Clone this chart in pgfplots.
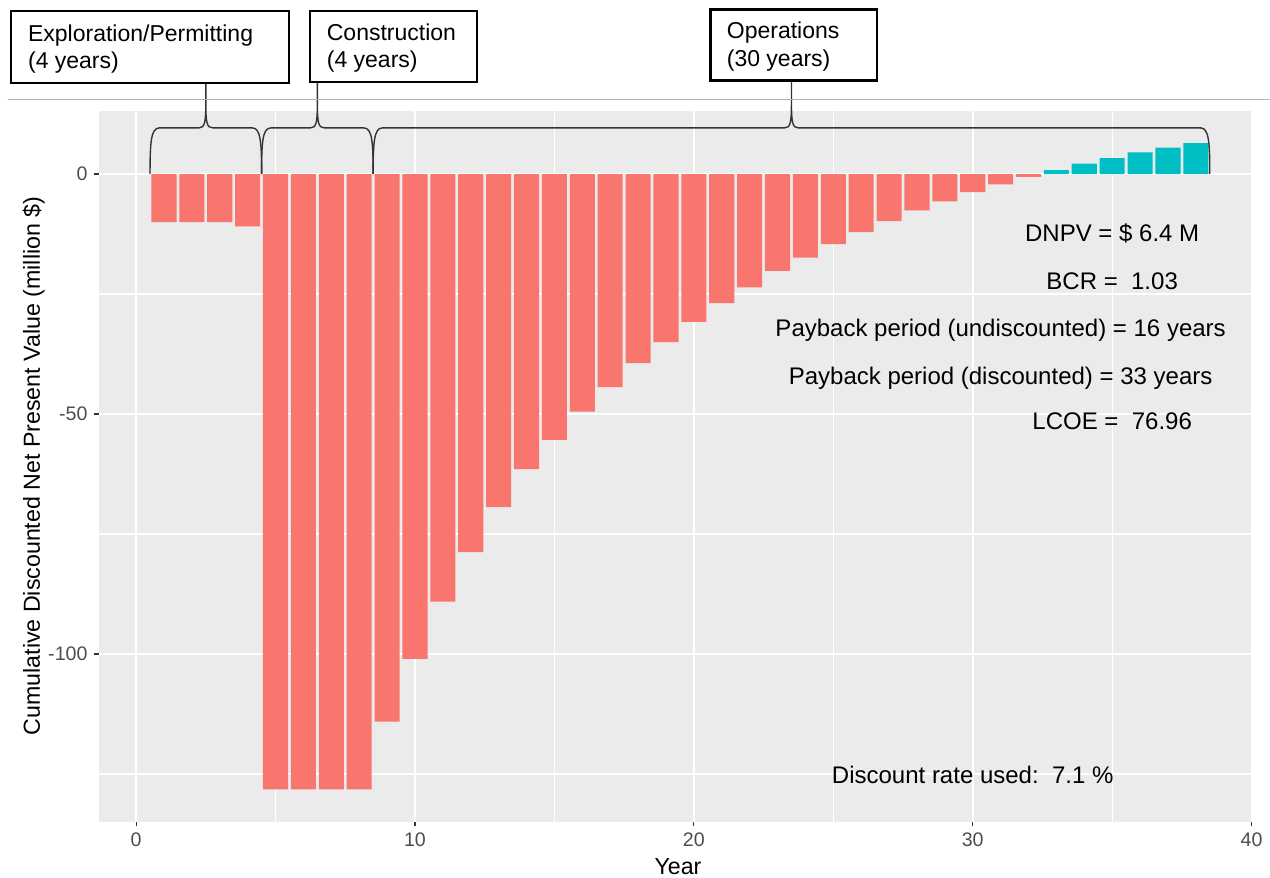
\documentclass[border=0pt]{standalone}
\usepackage{fontspec}
\setmainfont{Liberation Sans}
\usepackage{pgfplots}
\pgfplotsset{compat=1.18}
\definecolor{ggred}{HTML}{F8766D}
\definecolor{ggteal}{HTML}{00BFC4}
\definecolor{ggbg}{HTML}{EBEBEB}
\definecolor{gglab}{HTML}{4D4D4D}
\definecolor{ggtick}{HTML}{333333}
\newcommand{\annfont}{\fontsize{12bp}{14bp}\selectfont}
\newcommand{\boxfont}{\fontsize{11.5bp}{13bp}\selectfont}
\newcommand{\titfont}{\fontsize{11.6bp}{13bp}\selectfont}
\begin{document}
\begin{tikzpicture}
\useasboundingbox (-49.5bp,-28.15bp) rectangle (585.5bp,410.85bp);
\begin{axis}[
  at={(0,0)}, anchor=south west,
  scale only axis, width=577bp, height=355.5bp,
  xmin=-1.33, xmax=40.05, ymin=-134.94, ymax=13.19,
  clip=false,
  axis background/.style={fill=ggbg},
  axis line style={draw=none},
  xtick={0,10,20,30,40}, ytick={-100,-50,0},
  xticklabels={0,10,20,30,40}, yticklabels={-100,-50,0},
  minor xtick={5,15,25,35}, minor ytick={-125,-75,-25},
  grid=both,
  major grid style={white, line width=1.1bp},
  minor grid style={white, line width=0.55bp},
  tick align=outside, xtick pos=left, ytick pos=left,
  major tick length=2.25bp, minor tick length=0pt,
  tick style={color=ggtick, line width=0.55bp},
  ticklabel style={font=\fontsize{9.8bp}{11bp}\selectfont, text=gglab},
  /pgf/number format/assume math mode=true,
]
\addplot[ybar, bar width=0.9, bar shift=0pt, fill=ggred, draw=none] coordinates {
(1,-10.0)(2,-10.0)(3,-10.0)(4,-10.9)(5,-128.2)(6,-128.2)(7,-128.2)(8,-128.2)
(9,-114.1)(10,-101.0)(11,-89.1)(12,-78.8)(13,-69.4)(14,-61.5)(15,-55.4)(16,-49.5)
(17,-44.4)(18,-39.4)(19,-35.0)(20,-30.8)(21,-26.9)(22,-23.6)(23,-20.2)(24,-17.4)
(25,-14.6)(26,-12.1)(27,-9.8)(28,-7.6)(29,-5.7)(30,-3.8)(31,-2.15)(32,-0.6)};
\addplot[ybar, bar width=0.9, bar shift=0pt, fill=ggteal, draw=none] coordinates {
(33,0.83)(34,2.15)(35,3.33)(36,4.5)(37,5.5)(38,6.45)};
% braces
\draw[ggtick, line width=0.7bp]
 (axis cs:0.5,0) .. controls (axis cs:0.5,6.5) and (axis cs:0.53,9.6) .. (axis cs:0.83,9.6)
 -- (axis cs:2.25,9.6) .. controls (axis cs:2.47,9.6) and (axis cs:2.5,10.8) .. (axis cs:2.5,15)
 -- (axis cs:2.5,18.96)
 (axis cs:2.5,15) .. controls (axis cs:2.5,10.8) and (axis cs:2.53,9.6) .. (axis cs:2.75,9.6)
 -- (axis cs:4.17,9.6) .. controls (axis cs:4.47,9.6) and (axis cs:4.5,6.5) .. (axis cs:4.5,0);
\draw[ggtick, line width=0.7bp]
 (axis cs:4.5,0) .. controls (axis cs:4.5,6.5) and (axis cs:4.53,9.6) .. (axis cs:4.83,9.6)
 -- (axis cs:6.25,9.6) .. controls (axis cs:6.47,9.6) and (axis cs:6.5,10.8) .. (axis cs:6.5,15)
 -- (axis cs:6.5,19.3)
 (axis cs:6.5,15) .. controls (axis cs:6.5,10.8) and (axis cs:6.53,9.6) .. (axis cs:6.75,9.6)
 -- (axis cs:8.17,9.6) .. controls (axis cs:8.47,9.6) and (axis cs:8.5,6.5) .. (axis cs:8.5,0);
\draw[ggtick, line width=0.7bp]
 (axis cs:8.5,0) .. controls (axis cs:8.5,6.5) and (axis cs:8.53,9.6) .. (axis cs:8.83,9.6)
 -- (axis cs:23.25,9.6) .. controls (axis cs:23.47,9.6) and (axis cs:23.5,10.8) .. (axis cs:23.5,15)
 -- (axis cs:23.5,19.5)
 (axis cs:23.5,15) .. controls (axis cs:23.5,10.8) and (axis cs:23.53,9.6) .. (axis cs:23.75,9.6)
 -- (axis cs:38.17,9.6) .. controls (axis cs:38.47,9.6) and (axis cs:38.5,6.5) .. (axis cs:38.5,0);
% annotations
\node[anchor=base, inner sep=0, font=\annfont] at (axis cs:35,-14.1) {DNPV = \$ 6.4 M};
\node[anchor=base, inner sep=0, font=\annfont] at (axis cs:35,-24.0) {BCR =\ \ 1.03};
\node[anchor=base, inner sep=0, font=\annfont] at (axis cs:31,-33.9) {Payback period (undiscounted) = 16 years};
\node[anchor=base, inner sep=0, font=\annfont] at (axis cs:31,-43.8) {Payback period (discounted) = 33 years};
\node[anchor=base, inner sep=0, font=\annfont] at (axis cs:35,-53.3) {LCOE =\ \ 76.96};
\node[anchor=base, inner sep=0, font=\annfont] at (axis cs:30,-126.9) {Discount rate used:\ \ 7.1 \%};
\end{axis}
\begin{scope}[shift={(-49.5bp,410.85bp)}, x=0.5bp, y=-0.5bp]
\draw[black!30, line width=0.5bp] (8,99.5) -- (1270,99.5);
\draw[black, line width=1.1bp, fill=white] (11,11) rectangle (288.7,83.3);
\node[anchor=base west, inner sep=0, font=\boxfont] at (27.7,41.7) {Exploration/Permitting};
\node[anchor=base west, inner sep=0, font=\boxfont] at (27.7,68.3) {(4 years)};
\draw[black, line width=1.1bp, fill=white] (310.3,11) rectangle (476.7,81.7);
\node[anchor=base west, inner sep=0, font=\boxfont] at (326.5,40.5) {Construction};
\node[anchor=base west, inner sep=0, font=\boxfont] at (326.5,67.5) {(4 years)};
\draw[black, line width=1.1bp, fill=white] (710.5,9.5) rectangle (877,80.5);
\node[anchor=base west, inner sep=0, font=\boxfont] at (726.5,39) {Operations};
\node[anchor=base west, inner sep=0, font=\boxfont] at (726.5,66.5) {(30 years)};
\node[anchor=base, inner sep=0, font=\titfont] at (678,875) {Year};
\node[anchor=base, inner sep=0, font=\titfont, rotate=90] at (40,466) {Cumulative Discounted Net Present Value (million \$)};
\end{scope}
\end{tikzpicture}
\end{document}
